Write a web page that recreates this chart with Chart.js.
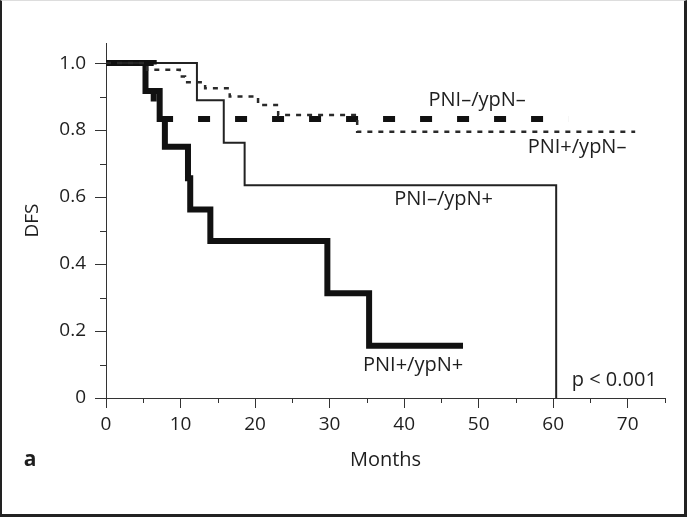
<!DOCTYPE html>
<html>
<head>
<meta charset="utf-8">
<script src="https://cdn.jsdelivr.net/npm/chart.js@4.4.1/dist/chart.umd.min.js"></script>
<style>
  html, body { margin: 0; padding: 0; background: #fff; }
  #wrap { position: relative; width: 687px; height: 517px; }
  #frame {
    position: absolute; left: 0; top: 0; width: 687px; height: 517px;
    box-sizing: border-box; pointer-events: none;
    border-left: 2px solid #222; border-right: 3px solid #222;
    border-bottom: 3px solid #222; border-top: 1px solid #ddd;
  }
</style>
</head>
<body>
<div id="wrap">
  <canvas id="kmChart" width="687" height="517"></canvas>
  <div id="frame"></div>
</div>
<script>
// Kaplan-Meier curves, DFS by PNI / ypN status
const negNegMonths = [0, 6.4, 62];
const negNegDfs = [1, 0.833, 0.833];

const posNegMonths = [0, 5.5, 9.9, 10.6, 13.3, 16.6, 20.4, 23.1, 33.7, 71];
const posNegDfs = [1, 0.98, 0.96, 0.943, 0.925, 0.9, 0.875, 0.845, 0.795, 0.795];

const negPosMonths = [0, 12.2, 15.8, 18.6, 60.4];
const negPosDfs = [1, 0.889, 0.762, 0.635, 0];

const posPosMonths = [0, 5.3, 7.2, 7.9, 11.0, 11.3, 14.0, 29.7, 35.3, 47.9];
const posPosDfs = [1, 0.917, 0.833, 0.75, 0.656, 0.5625, 0.469, 0.3125, 0.156, 0.156];

const curveLabels = ['PNI–/ypN–', 'PNI+/ypN–', 'PNI–/ypN+', 'PNI+/ypN+'];
const pValueText = 'p < 0.001';
const panelLetter = 'a';

const xMajorTicks = [0, 10, 20, 30, 40, 50, 60, 70];
const xMinorTicks = [5, 15, 25, 35, 45, 55, 65, 75];
const yMajorTicks = [0, 0.2, 0.4, 0.6, 0.8, 1.0];
const yMinorTicks = [0.1, 0.3, 0.5, 0.7, 0.9];

const ink = '#1e1e1e';
const axisColor = '#333';
const fontFamily = '"Open Sans", "Noto Sans", sans-serif';

const toPoints = (xs, ys) => xs.map((m, i) => ({ x: m, y: ys[i] }));

Chart.defaults.font.family = fontFamily;
Chart.defaults.color = ink;

// curve labels, p value, panel letter and the short minor ticks
const extras = {
  id: 'extras',
  afterDraw(chart) {
    const { ctx, scales: { x, y } } = chart;
    ctx.save();
    ctx.strokeStyle = axisColor;
    ctx.lineWidth = 1;
    ctx.beginPath();
    yMinorTicks.forEach(v => {
      const py = Math.round(y.getPixelForValue(v)) + 0.5;
      ctx.moveTo(x.left - 6, py);
      ctx.lineTo(x.left, py);
    });
    xMinorTicks.forEach(v => {
      const px = Math.round(x.getPixelForValue(v)) + 0.5;
      ctx.moveTo(px, y.bottom);
      ctx.lineTo(px, y.bottom + 5);
    });
    ctx.stroke();

    ctx.fillStyle = ink;
    ctx.font = '20px ' + fontFamily;
    ctx.textAlign = 'center';
    ctx.textBaseline = 'middle';
    ctx.fillText(curveLabels[0], x.getPixelForValue(49.8), y.getPixelForValue(0.888));
    ctx.fillText(curveLabels[1], x.getPixelForValue(63.2), y.getPixelForValue(0.749));
    ctx.fillText(curveLabels[2], x.getPixelForValue(45.3), y.getPixelForValue(0.592));
    ctx.fillText(curveLabels[3], x.getPixelForValue(41.2), y.getPixelForValue(0.099));
    ctx.fillText(pValueText, x.getPixelForValue(68.2), y.getPixelForValue(0.052));

    ctx.font = 'bold 21px ' + fontFamily;
    ctx.fillText(panelLetter, 30, 460);
    ctx.restore();
  }
};

new Chart(document.getElementById('kmChart'), {
  type: 'line',
  data: {
    datasets: [
      {
        label: curveLabels[1],
        data: toPoints(posNegMonths, posNegDfs),
        borderColor: '#2a2a2a',
        borderWidth: 2.5,
        borderDash: [5, 6]
      },
      {
        label: curveLabels[0],
        data: toPoints(negNegMonths, negNegDfs),
        borderColor: '#111',
        borderWidth: 6,
        borderDash: [12, 25]
      },
      {
        label: curveLabels[2],
        data: toPoints(negPosMonths, negPosDfs),
        borderColor: '#222',
        borderWidth: 2
      },
      {
        label: curveLabels[3],
        data: toPoints(posPosMonths, posPosDfs),
        borderColor: '#111',
        borderWidth: 6
      }
    ]
  },
  options: {
    responsive: false,
    animation: false,
    devicePixelRatio: 1,
    layout: { padding: { left: 10, right: 22, top: 43, bottom: 20 } },
    elements: {
      line: { stepped: 'before', fill: false, borderCapStyle: 'butt', borderJoinStyle: 'miter', tension: 0 },
      point: { radius: 0, hoverRadius: 0 }
    },
    plugins: {
      legend: { display: false },
      tooltip: { enabled: false }
    },
    scales: {
      x: {
        type: 'linear',
        min: 0,
        max: 75,
        afterBuildTicks: s => { s.ticks = xMajorTicks.map(v => ({ value: v })); },
        afterFit: s => { s.height = 517 - 20 - 398; },
        border: { display: true, color: axisColor, width: 1 },
        grid: { display: true, drawOnChartArea: false, drawTicks: true, tickLength: 10, tickColor: axisColor },
        ticks: { font: { size: 19 }, color: ink, padding: 5, maxRotation: 0, autoSkip: false },
        title: { display: true, text: 'Months', font: { size: 20 }, color: ink, padding: { top: 0, bottom: 25 } }
      },
      y: {
        type: 'linear',
        min: 0,
        max: 1.06,
        afterBuildTicks: s => { s.ticks = yMajorTicks.map(v => ({ value: v })); },
        afterFit: s => { s.width = 96; },
        border: { display: true, color: axisColor, width: 1 },
        grid: { display: true, drawOnChartArea: false, drawTicks: true, tickLength: 11, tickColor: axisColor },
        ticks: {
          font: { size: 19 },
          color: ink,
          padding: 9,
          callback: v => (v === 0 ? '0' : v.toFixed(1))
        },
        title: { display: true, text: 'DFS', font: { size: 19 }, color: ink, padding: { top: 11, bottom: 0 } }
      }
    }
  },
  plugins: [extras]
});
</script>
</body>
</html>
